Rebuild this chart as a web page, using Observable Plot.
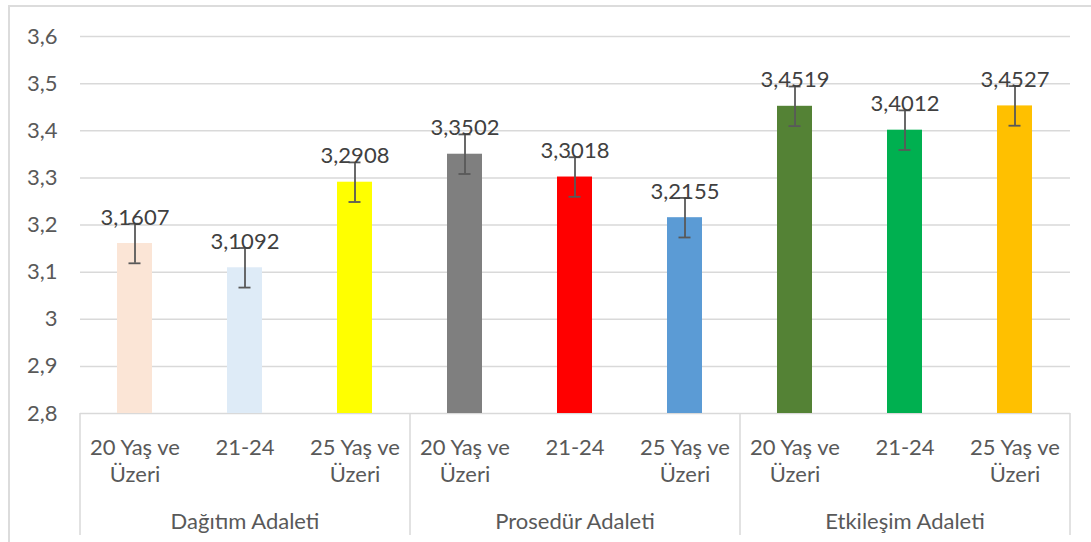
<!DOCTYPE html>
<html>
<head>
<meta charset="utf-8">
<script src="https://cdn.jsdelivr.net/npm/d3@7"></script>
<script src="https://cdn.jsdelivr.net/npm/@observablehq/plot@0.6"></script>
<style>
  html, body { margin: 0; padding: 0; background: #fff; overflow: hidden; }
  #wrap { position: relative; width: 1091px; height: 542px; }
  #border { position: absolute; left: 8px; top: 5px; width: 1200px; height: 700px;
            border-left: 2px solid #dcdcdc; border-top: 2px solid #dcdcdc; pointer-events: none; }
  #chart { position: absolute; left: 0; top: 0; }
</style>
</head>
<body>
<div id="wrap"><div id="border"></div><div id="chart"></div></div>
<script>
const groups = ["Dağıtım Adaleti", "Prosedür Adaleti", "Etkileşim Adaleti"];
const ages = ["20 Yaş ve Üzeri", "21-24", "25 Yaş ve Üzeri"];
const values = [3.1607, 3.1092, 3.2908, 3.3502, 3.3018, 3.2155, 3.4519, 3.4012, 3.4527];
const errors = [0.042, 0.042, 0.042, 0.042, 0.042, 0.042, 0.042, 0.042, 0.042];
const colors = ["#FBE5D6", "#DEEBF7", "#FFFF00", "#7F7F7F", "#FF0000", "#5B9BD5", "#548235", "#00B050", "#FFC000"];
const yTicks = [2.8, 2.9, 3.0, 3.1, 3.2, 3.3, 3.4, 3.5, 3.6];

const data = [];
groups.forEach((g, gi) => ages.forEach((a, ai) => {
  const i = gi * ages.length + ai;
  data.push({key: g + "|" + a, group: g, age: a, value: values[i], err: errors[i], color: colors[i]});
}));
const keys = data.map(d => d.key);
const yMin = yTicks[0];
const groupMid = groups.map(g => ({group: g, key: g + "|" + ages[1]}));
const sepLeft = groups.map(g => g + "|" + ages[0]);
const sepRight = [groups[groups.length - 1] + "|" + ages[ages.length - 1]];

const comma = (v, n) => v.toFixed(n).replace(".", ",");
const yFmt = d => String(+d.toFixed(1)).replace(".", ",");
const xFmt = k => k.split("|")[1].replace("ve ", "ve\n");

const chart = Plot.plot({
  width: 1091,
  height: 542,
  marginLeft: 80,
  marginRight: 21,
  marginTop: 36,
  marginBottom: 129,
  style: {fontFamily: "Lato, 'Open Sans', sans-serif", fontSize: "22px", color: "#595959", background: "transparent"},
  x: {domain: keys, paddingInner: 0.68, paddingOuter: 0.34, axis: null},
  y: {domain: [yTicks[0], yTicks[yTicks.length - 1]], axis: null},
  marks: [
    Plot.gridY(yTicks, {stroke: "#d9d9d9", strokeOpacity: 1, strokeWidth: 1.5}),
    Plot.axisY(yTicks, {tickSize: 0, tickPadding: 23, tickFormat: yFmt, fontSize: 22, fill: "#595959", label: null}),
    Plot.ruleX(sepLeft, {x: d => d, dx: -55, insetTop: 377, insetBottom: -122, stroke: "#d9d9d9", strokeWidth: 1.5}),
    Plot.ruleX(sepRight, {x: d => d, dx: 55, insetTop: 377, insetBottom: -122, stroke: "#d9d9d9", strokeWidth: 1.5}),
    Plot.barY(data, {x: "key", y1: () => yMin, y2: "value", fill: "color"}),
    Plot.ruleX(data, {x: "key", y1: d => d.value - d.err, y2: d => d.value + d.err, stroke: "#595959", strokeWidth: 1.8}),
    Plot.tickY(data, {x: "key", y: d => d.value - d.err, stroke: "#595959", strokeWidth: 1.8, insetLeft: 11.5, insetRight: 11.5}),
    Plot.tickY(data, {x: "key", y: d => d.value + d.err, stroke: "#595959", strokeWidth: 1.8, insetLeft: 11.5, insetRight: 11.5}),
    Plot.text(data, {x: "key", y: "value", text: d => comma(d.value, 4), dy: -26, lineAnchor: "middle", fill: "#404040", fontSize: 22}),
    Plot.axisX(keys, {tickSize: 0, tickPadding: 23, tickFormat: xFmt, fontSize: 22, lineHeight: 1.2, fill: "#595959", label: null}),
    Plot.text(groupMid, {x: "key", text: "group", frameAnchor: "bottom", dy: 108, lineAnchor: "middle", fill: "#595959", fontSize: 22})
  ]
});
document.getElementById("chart").appendChild(chart);
</script>
</body>
</html>
